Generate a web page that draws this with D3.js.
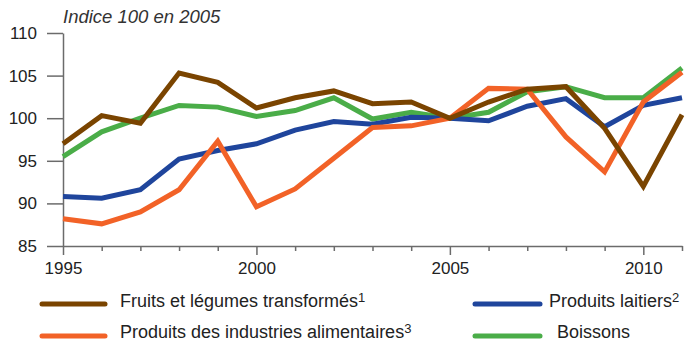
<!DOCTYPE html>
<html>
<head>
<meta charset="utf-8">
<script src="https://cdn.jsdelivr.net/npm/d3@7"></script>
<style>
  html, body { margin: 0; padding: 0; background: #fff; }
  svg { display: block; font-family: "Liberation Sans", Arial, sans-serif; }
</style>
</head>
<body>
<svg id="chart" width="690" height="342"></svg>
<script>
// Indices 1995–2011, base 100 en 2005
const years = d3.range(1995, 2012);
const fruits       = [97.0, 100.3, 99.4, 105.3, 104.2, 101.2, 102.4, 103.2, 101.7, 101.9, 100.0, 101.9, 103.4, 103.7, 98.8, 92.0, 100.4];
const laitiers     = [90.8, 90.6, 91.6, 95.2, 96.2, 97.0, 98.6, 99.6, 99.3, 100.1, 100.0, 99.7, 101.4, 102.3, 99.0, 101.5, 102.4];
const alimentaires = [88.2, 87.6, 89.0, 91.6, 97.3, 89.6, 91.7, 95.3, 98.9, 99.1, 100.0, 103.5, 103.4, 97.8, 93.7, 101.9, 105.4];
const boissons     = [95.5, 98.4, 100.0, 101.5, 101.3, 100.2, 100.9, 102.4, 99.9, 100.7, 100.0, 100.7, 103.1, 103.7, 102.4, 102.4, 105.9];

const yTicks = [85, 90, 95, 100, 105, 110];
const xLabels = [1995, 2000, 2005, 2010];
const title = "Indice 100 en 2005";

const series = [
  { name: "Boissons", values: boissons, color: "#4aad48" },
  { name: "Produits laitiers", values: laitiers, color: "#1f459c" },
  { name: "Produits des industries alimentaires", values: alimentaires, color: "#f26227" },
  { name: "Fruits et légumes transformés", values: fruits, color: "#7a4400" }
];

const legendItems = [
  { name: "Fruits et légumes transformés", sup: "1", color: "#7a4400", col: 0, row: 0 },
  { name: "Produits laitiers", sup: "2", color: "#1f459c", col: 1, row: 0 },
  { name: "Produits des industries alimentaires", sup: "3", color: "#f26227", col: 0, row: 1 },
  { name: "Boissons", sup: "", color: "#4aad48", col: 1, row: 1 }
];

const svg = d3.select("#chart");
const axisColor = "#6b6b6b";

const x = d3.scaleLinear().domain([1995, 2011]).range([63, 682]);
const y = d3.scaleLinear().domain([85, 110]).range([246, 33]);

// Title
svg.append("text")
  .attr("x", 63).attr("y", 23)
  .attr("font-size", 18.5).attr("font-style", "italic").attr("fill", "#333")
  .text(title);

// Y axis
const gy = svg.append("g")
  .attr("transform", `translate(${x(1995)},0)`)
  .call(d3.axisLeft(y).tickValues(yTicks).tickSize(16).tickPadding(10).tickSizeOuter(0));
gy.select(".domain").attr("stroke", axisColor).attr("stroke-width", 1.5);
gy.selectAll(".tick line").attr("stroke", axisColor).attr("stroke-width", 1.5);
gy.selectAll(".tick text").attr("font-size", 17).attr("fill", "#222")
  .attr("font-family", "Liberation Sans, Arial, sans-serif");

// X axis
const gx = svg.append("g")
  .attr("transform", `translate(0,${y(85)})`)
  .call(d3.axisBottom(x).tickValues(years).tickSizeOuter(0)
    .tickFormat(d => xLabels.includes(d) ? String(d) : ""));
gx.select(".domain").attr("stroke", axisColor).attr("stroke-width", 1.5);
gx.selectAll(".tick line")
  .attr("stroke", axisColor).attr("stroke-width", 1.5)
  .attr("y2", d => xLabels.includes(d) ? 9 : 5);
gx.selectAll(".tick text")
  .attr("y", 28).attr("dy", 0)
  .attr("font-size", 17).attr("fill", "#222")
  .attr("font-family", "Liberation Sans, Arial, sans-serif");

// Series lines
const line = d3.line()
  .x((d, i) => x(years[i]))
  .y(d => y(d));

svg.append("g").selectAll("path")
  .data(series)
  .join("path")
  .attr("d", d => line(d.values))
  .attr("fill", "none")
  .attr("stroke", d => d.color)
  .attr("stroke-width", 5)
  .attr("stroke-linejoin", "miter");

// Legend
const colX = [{ x1: 42, x2: 105, tx: 120 }, { x1: 475, x2: 540, tx: 549 }];
const rowY = [{ ly: 304, ty: 307 }, { ly: 336, ty: 338 }];

const lg = svg.append("g").selectAll("g")
  .data(legendItems)
  .join("g");

lg.append("line")
  .attr("x1", d => colX[d.col].x1).attr("x2", d => colX[d.col].x2)
  .attr("y1", d => rowY[d.row].ly).attr("y2", d => rowY[d.row].ly)
  .attr("stroke", d => d.color).attr("stroke-width", 5)
  .attr("stroke-linecap", "round");

const lt = lg.append("text")
  .attr("x", d => colX[d.col].tx + (d.sup ? 0 : 8))
  .attr("y", d => rowY[d.row].ty)
  .attr("font-size", 18).attr("fill", "#222");
lt.append("tspan").text(d => d.name);
lt.append("tspan")
  .attr("font-size", 13).attr("dy", -5)
  .text(d => d.sup);
</script>
</body>
</html>
